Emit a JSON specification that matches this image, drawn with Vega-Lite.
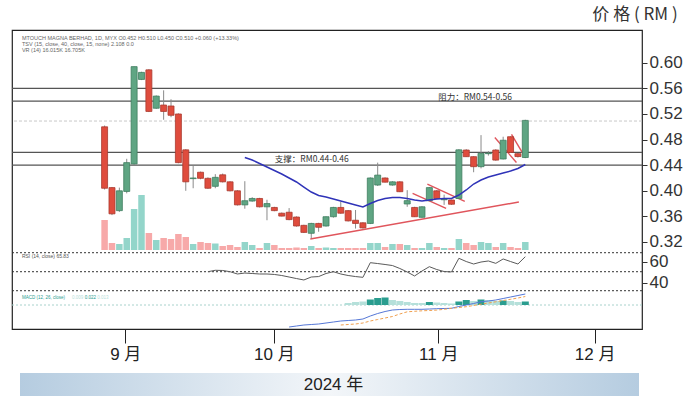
{
  "$schema": "https://vega.github.io/schema/vega-lite/v6.json",
  "padding": {"left": 10, "top": 6, "right": 0, "bottom": 0},
  "title": {"text": "价 格 ( RM )", "anchor": "end", "fontSize": 17, "font": "Noto Sans CJK SC", "fontWeight": "normal", "color": "#333333", "offset": 5, "dx": -5},
  "config": {"view": {"stroke": "#222222", "strokeWidth": 1.2}, "font": "Liberation Sans"},
  "spacing": 10,
  "datasets": {
    "k": [
      {"i":0,"o":0.500,"h":0.502,"l":0.402,"c":0.404,"v":300},
      {"i":1,"o":0.405,"h":0.406,"l":0.362,"c":0.364,"v":70},
      {"i":2,"o":0.369,"h":0.405,"l":0.367,"c":0.400,"v":60},
      {"i":3,"o":0.399,"h":0.450,"l":0.396,"c":0.444,"v":120},
      {"i":4,"o":0.442,"h":0.594,"l":0.440,"c":0.594,"v":410},
      {"i":5,"o":0.574,"h":0.586,"l":0.573,"c":0.585,"v":550},
      {"i":6,"o":0.589,"h":0.590,"l":0.523,"c":0.524,"v":170},
      {"i":7,"o":0.529,"h":0.549,"l":0.528,"c":0.548,"v":100},
      {"i":8,"o":0.534,"h":0.557,"l":0.511,"c":0.524,"v":120},
      {"i":9,"o":0.5325,"h":0.543,"l":0.515,"c":0.518,"v":110},
      {"i":10,"o":0.520,"h":0.521,"l":0.443,"c":0.444,"v":160},
      {"i":11,"o":0.464,"h":0.465,"l":0.400,"c":0.414,"v":130},
      {"i":12,"o":0.419,"h":0.439,"l":0.404,"c":0.420,"v":60},
      {"i":13,"o":0.429,"h":0.430,"l":0.418,"c":0.4195,"v":80},
      {"i":14,"o":0.4195,"h":0.421,"l":0.403,"c":0.404,"v":70,"rsi":50},
      {"i":15,"o":0.407,"h":0.426,"l":0.404,"c":0.421,"v":65,"rsi":51.5},
      {"i":16,"o":0.425,"h":0.427,"l":0.413,"c":0.414,"v":40,"rsi":51.3},
      {"i":17,"o":0.414,"h":0.415,"l":0.399,"c":0.400,"v":50,"rsi":50},
      {"i":18,"o":0.400,"h":0.401,"l":0.377,"c":0.378,"v":30,"rsi":47.6},
      {"i":19,"o":0.378,"h":0.415,"l":0.372,"c":0.3845,"v":80,"rsi":48.6,"ma":0.4520},
      {"i":20,"o":0.384,"h":0.390,"l":0.383,"c":0.388,"v":50,"rsi":48.1,"ma":0.4481},
      {"i":21,"o":0.388,"h":0.389,"l":0.374,"c":0.375,"v":20,"rsi":47.6,"ma":0.4427},
      {"i":22,"o":0.375,"h":0.386,"l":0.354,"c":0.380,"v":70,"rsi":47.6,"ma":0.4372},
      {"i":23,"o":0.374,"h":0.375,"l":0.368,"c":0.369,"v":50,"rsi":47.1,"ma":0.4317},
      {"i":24,"o":0.365,"h":0.366,"l":0.360,"c":0.3605,"v":20,"rsi":46,"ma":0.4263},
      {"i":25,"o":0.3665,"h":0.373,"l":0.354,"c":0.355,"v":20,"rsi":44.4,"ma":0.4200,"m":-0.022},
      {"i":26,"o":0.359,"h":0.360,"l":0.344,"c":0.345,"v":25,"rsi":42.8,"ma":0.4138,"m":-0.021},
      {"i":27,"o":0.346,"h":0.347,"l":0.334,"c":0.335,"v":20,"rsi":41.3,"ma":0.4059,"m":-0.020},
      {"i":28,"o":0.3336,"h":0.350,"l":0.3257,"c":0.349,"v":40,"rsi":44.4,"ma":0.3981,"m":-0.0195},
      {"i":29,"o":0.349,"h":0.350,"l":0.336,"c":0.343,"v":20,"rsi":44.9,"ma":0.3927,"m":-0.019},
      {"i":30,"o":0.345,"h":0.360,"l":0.344,"c":0.3595,"v":25,"rsi":48.1,"ma":0.3903,"m":-0.018},
      {"i":31,"o":0.3595,"h":0.375,"l":0.358,"c":0.374,"v":20,"rsi":50,"ma":0.3872,"m":-0.017},
      {"i":32,"o":0.374,"h":0.383,"l":0.364,"c":0.365,"v":20,"rsi":47.6,"ma":0.3841,"m":-0.016,"s":-0.020},
      {"i":33,"o":0.369,"h":0.370,"l":0.352,"c":0.353,"v":20,"rsi":46,"ma":0.3809,"m":-0.0155,"s":-0.0195,"hist":0.002,"hd":"down"},
      {"i":34,"o":0.354,"h":0.370,"l":0.341,"c":0.349,"v":20,"rsi":44.9,"ma":0.3778,"m":-0.015,"s":-0.019,"hist":0.003,"hd":"down"},
      {"i":35,"o":0.350,"h":0.351,"l":0.341,"c":0.342,"v":20,"rsi":44.1,"ma":0.3747,"m":-0.014,"s":-0.018,"hist":0.0035,"hd":"down"},
      {"i":36,"o":0.349,"h":0.421,"l":0.348,"c":0.420,"v":70,"rsi":59.5,"ma":0.3802,"m":-0.011,"s":-0.016,"hist":0.0055,"hd":"up"},
      {"i":37,"o":0.409,"h":0.444,"l":0.4075,"c":0.4245,"v":70,"rsi":58.6,"ma":0.3848,"m":-0.0085,"s":-0.0145,"hist":0.007,"hd":"up"},
      {"i":38,"o":0.420,"h":0.421,"l":0.413,"c":0.4135,"v":30,"rsi":57.6,"ma":0.3880,"m":-0.0065,"s":-0.013,"hist":0.0075,"hd":"up"},
      {"i":39,"o":0.409,"h":0.415,"l":0.408,"c":0.414,"v":60,"rsi":56.5,"ma":0.3895,"m":-0.005,"s":-0.0115,"hist":0.005,"hd":"down"},
      {"i":40,"o":0.414,"h":0.415,"l":0.398,"c":0.3986,"v":60,"rsi":53.4,"ma":0.3895,"m":-0.0045,"s":-0.009,"hist":0.004,"hd":"down"},
      {"i":41,"o":0.3794,"h":0.401,"l":0.375,"c":0.3846,"v":50,"rsi":49.7,"ma":0.3880,"m":-0.0043,"s":-0.0068,"hist":0.003,"hd":"down"},
      {"i":42,"o":0.374,"h":0.375,"l":0.359,"c":0.3595,"v":20,"rsi":45.5,"ma":0.3856,"m":-0.0043,"s":-0.0063,"hist":0.002,"hd":"down"},
      {"i":43,"o":0.3586,"h":0.376,"l":0.358,"c":0.375,"v":20,"rsi":50.7,"ma":0.3841,"m":-0.0043,"s":-0.0058,"hist":0.002,"hd":"down"},
      {"i":44,"o":0.3845,"h":0.406,"l":0.384,"c":0.405,"v":70,"rsi":55.3,"ma":0.3856,"m":-0.004,"s":-0.0055,"hist":0.003,"hd":"up"},
      {"i":45,"o":0.400,"h":0.401,"l":0.387,"c":0.388,"v":30,"rsi":52.3,"ma":0.3872,"m":-0.0037,"s":-0.0051,"hist":0.0025,"hd":"down"},
      {"i":46,"o":0.386,"h":0.394,"l":0.378,"c":0.387,"v":20,"rsi":50.2,"ma":0.3880,"m":-0.0035,"s":-0.0043,"hist":0.002,"hd":"down"},
      {"i":47,"o":0.3856,"h":0.386,"l":0.378,"c":0.379,"v":20,"rsi":49.7,"ma":0.3880,"m":-0.0033,"s":-0.0033,"hist":0.0015,"hd":"down"},
      {"i":48,"o":0.388,"h":0.465,"l":0.387,"c":0.464,"v":110,"rsi":64.1,"ma":0.3934,"m":-0.0015,"s":-0.0025,"hist":0.0035,"hd":"up"},
      {"i":49,"o":0.4637,"h":0.465,"l":0.453,"c":0.4533,"v":70,"rsi":60.7,"ma":0.4013,"m":0.0,"s":-0.0017,"hist":0.005,"hd":"up"},
      {"i":50,"o":0.4533,"h":0.454,"l":0.429,"c":0.4377,"v":50,"rsi":58.1,"ma":0.4106,"m":0.0015,"s":-0.0005,"hist":0.004,"hd":"down"},
      {"i":51,"o":0.4377,"h":0.487,"l":0.435,"c":0.4586,"v":80,"rsi":60.2,"ma":0.4169,"m":0.0033,"s":0.0008,"hist":0.0055,"hd":"up"},
      {"i":52,"o":0.458,"h":0.462,"l":0.455,"c":0.459,"v":70,"rsi":61.3,"ma":0.4216,"m":0.004,"s":0.002,"hist":0.005,"hd":"down"},
      {"i":53,"o":0.4637,"h":0.465,"l":0.447,"c":0.448,"v":30,"rsi":58.8,"ma":0.4247,"m":0.005,"s":0.0032,"hist":0.004,"hd":"down"},
      {"i":54,"o":0.4497,"h":0.4845,"l":0.449,"c":0.479,"v":70,"rsi":63.4,"ma":0.4278,"m":0.0065,"s":0.0045,"hist":0.0045,"hd":"up"},
      {"i":55,"o":0.4845,"h":0.485,"l":0.459,"c":0.460,"v":30,"rsi":60.7,"ma":0.4309,"m":0.008,"s":0.0057,"hist":0.004,"hd":"down"},
      {"i":56,"o":0.458,"h":0.459,"l":0.452,"c":0.4535,"v":20,"rsi":58.1,"ma":0.4348,"m":0.0095,"s":0.007,"hist":0.003,"hd":"down"},
      {"i":57,"o":0.452,"h":0.511,"l":0.451,"c":0.510,"v":80,"rsi":65.8,"ma":0.4411,"m":0.011,"s":0.0085,"hist":0.0035,"hd":"up"}
    ],
    "levels": [{"p":0.56},{"p":0.54},{"p":0.46},{"p":0.44}],
    "trend": [
      {"x1":27.87,"y1":0.3247,"x2":56.13,"y2":0.3825},
      {"x1":41.73,"y1":0.3961,"x2":46.27,"y2":0.3727},
      {"x1":43.73,"y1":0.4106,"x2":48.8,"y2":0.3836},
      {"x1":52.87,"y1":0.4833,"x2":55.8,"y2":0.4442},
      {"x1":55.13,"y1":0.488,"x2":57.0,"y2":0.452}
    ],
    "notes": [
      {"i":23.07,"p":0.4497,"t":"支撑：RM0.44-0.46"},
      {"i":45.2,"p":0.547,"t":"阻力：RM0.54-0.56"}
    ],
    "header": [
      {"i":-11.2,"p":0.6395,"t":"MTOUCH MAGNA BERHAD, 1D, MYX   O0.452  H0.510  L0.450  C0.510  +0.060 (+13.33%)"},
      {"i":-11.2,"p":0.6294,"t":"TSV (15, close, 40, close, 15, none)  2.108  0.0"},
      {"i":-11.2,"p":0.62,"t":"VR (14)  16.015K  16.705K"}
    ],
    "rsiLevels": [{"r":70},{"r":50},{"r":30}]
  },
  "vconcat": [
    {
      "width": 630,
      "height": 299,
      "resolve": {"scale": {"y": "independent"}},
      "layer": [
        {
          "data": {"name": "k"},
          "mark": {"type": "bar", "size": 6.5},
          "encoding": {
            "x": {"field": "i", "type": "quantitative", "scale": {"domain": [-11.867, 72.133], "nice": false, "zero": false},
              "axis": {"values": [2.8, 22.93, 45.2, 66.4], "labelExpr": "datum.value < 10 ? '9 月' : datum.value < 30 ? '10 月' : datum.value < 50 ? '11 月' : '12 月'", "domain": false, "grid": false, "tickSize": 14, "tickColor": "#222222", "tickWidth": 1, "labelFontSize": 17, "labelFont": "Liberation Sans, Noto Sans CJK SC", "labelColor": "#222222", "labelPadding": 3, "title": null, "labelFlush": false, "labelOverlap": false}},
            "y": {"field": "v", "type": "quantitative", "scale": {"domain": [-790, 2200], "nice": false, "zero": false}, "axis": null},
            "y2": {"datum": 0},
            "color": {"condition": {"test": "datum.c >= datum.o", "value": "#93d5ca"}, "value": "#f7a9a9"}
          }
        },
        {
          "data": {"name": "levels"},
          "mark": {"type": "rule", "color": "#555555", "strokeWidth": 1.3},
          "encoding": {
            "y": {"field": "p", "type": "quantitative", "scale": {"domain": [0.18406, 0.65125], "nice": false, "zero": false}, "axis": null}
          }
        },
        {
          "data": {"values": [{"p": 0.509}]},
          "mark": {"type": "rule", "color": "#c8c8c8", "strokeWidth": 1, "strokeDash": [3, 2]},
          "encoding": {
            "y": {"field": "p", "type": "quantitative", "scale": {"domain": [0.18406, 0.65125], "nice": false, "zero": false}, "axis": null}
          }
        },
        {
          "data": {"name": "rsiLevels"},
          "mark": {"type": "rule", "color": "#333333", "strokeWidth": 1, "strokeDash": [2, 2]},
          "encoding": {
            "y": {"field": "r", "type": "quantitative", "scale": {"domain": [-10.3, 304.4], "nice": false, "zero": false}, "axis": null}
          }
        },
        {
          "data": {"name": "k"},
          "transform": [{"filter": "isValid(datum.rsi)"}],
          "mark": {"type": "line", "color": "#5a5a5a", "strokeWidth": 1},
          "encoding": {
            "x": {"field": "i", "type": "quantitative", "scale": {"domain": [-11.867, 72.133], "nice": false, "zero": false},
              "axis": {"values": [2.8, 22.93, 45.2, 66.4], "labelExpr": "datum.value < 10 ? '9 月' : datum.value < 30 ? '10 月' : datum.value < 50 ? '11 月' : '12 月'", "domain": false, "grid": false, "tickSize": 14, "tickColor": "#222222", "tickWidth": 1, "labelFontSize": 17, "labelFont": "Liberation Sans, Noto Sans CJK SC", "labelColor": "#222222", "labelPadding": 3, "title": null, "labelFlush": false, "labelOverlap": false}},
            "y": {"field": "rsi", "type": "quantitative", "scale": {"domain": [-10.3, 304.4], "nice": false, "zero": false}, "axis": null}
          }
        },
        {
          "data": {"values": [{"i": -11.2, "r": 66.5, "t": "RSI (14, close)  65.83"}]},
          "mark": {"type": "text", "align": "left", "baseline": "middle", "fontSize": 5, "color": "#555555"},
          "encoding": {
            "x": {"field": "i", "type": "quantitative", "scale": {"domain": [-11.867, 72.133], "nice": false, "zero": false},
              "axis": {"values": [2.8, 22.93, 45.2, 66.4], "labelExpr": "datum.value < 10 ? '9 月' : datum.value < 30 ? '10 月' : datum.value < 50 ? '11 月' : '12 月'", "domain": false, "grid": false, "tickSize": 14, "tickColor": "#222222", "tickWidth": 1, "labelFontSize": 17, "labelFont": "Liberation Sans, Noto Sans CJK SC", "labelColor": "#222222", "labelPadding": 3, "title": null, "labelFlush": false, "labelOverlap": false}},
            "y": {"field": "r", "type": "quantitative", "scale": {"domain": [-10.3, 304.4], "nice": false, "zero": false}, "axis": null},
            "text": {"field": "t"}
          }
        },
        {
          "data": {"values": [{"z": 0}]},
          "mark": {"type": "rule", "color": "#a8d2cc", "strokeWidth": 1, "strokeDash": [2, 2]},
          "encoding": {
            "y": {"field": "z", "type": "quantitative", "scale": {"domain": [-0.024, 0.275], "nice": false, "zero": false}, "axis": null}
          }
        },
        {
          "data": {"name": "k"},
          "transform": [{"filter": "isValid(datum.hist)"}],
          "mark": {"type": "bar", "size": 7},
          "encoding": {
            "x": {"field": "i", "type": "quantitative", "scale": {"domain": [-11.867, 72.133], "nice": false, "zero": false},
              "axis": {"values": [2.8, 22.93, 45.2, 66.4], "labelExpr": "datum.value < 10 ? '9 月' : datum.value < 30 ? '10 月' : datum.value < 50 ? '11 月' : '12 月'", "domain": false, "grid": false, "tickSize": 14, "tickColor": "#222222", "tickWidth": 1, "labelFontSize": 17, "labelFont": "Liberation Sans, Noto Sans CJK SC", "labelColor": "#222222", "labelPadding": 3, "title": null, "labelFlush": false, "labelOverlap": false}},
            "y": {"field": "hist", "type": "quantitative", "scale": {"domain": [-0.024, 0.275], "nice": false, "zero": false}, "axis": null},
            "y2": {"datum": 0},
            "color": {"field": "hd", "type": "nominal", "scale": {"domain": ["up", "down"], "range": ["#2a9d8f", "#b5e0da"]}, "legend": null}
          }
        },
        {
          "data": {"name": "k"},
          "transform": [{"filter": "isValid(datum.m)"}],
          "mark": {"type": "line", "color": "#5577d6", "strokeWidth": 1},
          "encoding": {
            "x": {"field": "i", "type": "quantitative", "scale": {"domain": [-11.867, 72.133], "nice": false, "zero": false},
              "axis": {"values": [2.8, 22.93, 45.2, 66.4], "labelExpr": "datum.value < 10 ? '9 月' : datum.value < 30 ? '10 月' : datum.value < 50 ? '11 月' : '12 月'", "domain": false, "grid": false, "tickSize": 14, "tickColor": "#222222", "tickWidth": 1, "labelFontSize": 17, "labelFont": "Liberation Sans, Noto Sans CJK SC", "labelColor": "#222222", "labelPadding": 3, "title": null, "labelFlush": false, "labelOverlap": false}},
            "y": {"field": "m", "type": "quantitative", "scale": {"domain": [-0.024, 0.275], "nice": false, "zero": false}, "axis": null}
          }
        },
        {
          "data": {"name": "k"},
          "transform": [{"filter": "isValid(datum.s)"}],
          "mark": {"type": "line", "color": "#f0a050", "strokeWidth": 1, "strokeDash": [3, 2]},
          "encoding": {
            "x": {"field": "i", "type": "quantitative", "scale": {"domain": [-11.867, 72.133], "nice": false, "zero": false},
              "axis": {"values": [2.8, 22.93, 45.2, 66.4], "labelExpr": "datum.value < 10 ? '9 月' : datum.value < 30 ? '10 月' : datum.value < 50 ? '11 月' : '12 月'", "domain": false, "grid": false, "tickSize": 14, "tickColor": "#222222", "tickWidth": 1, "labelFontSize": 17, "labelFont": "Liberation Sans, Noto Sans CJK SC", "labelColor": "#222222", "labelPadding": 3, "title": null, "labelFlush": false, "labelOverlap": false}},
            "y": {"field": "s", "type": "quantitative", "scale": {"domain": [-0.024, 0.275], "nice": false, "zero": false}, "axis": null}
          }
        },
        {
          "data": {"values": [
            {"i": -11.2, "m": 0.007, "t": "MACD (12, 26, close)", "g": "a"},
            {"i": -4.4, "m": 0.007, "t": "0.009", "g": "b"},
            {"i": -2.7, "m": 0.007, "t": "0.022", "g": "c"},
            {"i": -1.0, "m": 0.007, "t": "0.013", "g": "d"}
          ]},
          "mark": {"type": "text", "align": "left", "baseline": "middle", "fontSize": 4.5},
          "encoding": {
            "x": {"field": "i", "type": "quantitative", "scale": {"domain": [-11.867, 72.133], "nice": false, "zero": false},
              "axis": {"values": [2.8, 22.93, 45.2, 66.4], "labelExpr": "datum.value < 10 ? '9 月' : datum.value < 30 ? '10 月' : datum.value < 50 ? '11 月' : '12 月'", "domain": false, "grid": false, "tickSize": 14, "tickColor": "#222222", "tickWidth": 1, "labelFontSize": 17, "labelFont": "Liberation Sans, Noto Sans CJK SC", "labelColor": "#222222", "labelPadding": 3, "title": null, "labelFlush": false, "labelOverlap": false}},
            "y": {"field": "m", "type": "quantitative", "scale": {"domain": [-0.024, 0.275], "nice": false, "zero": false}, "axis": null},
            "text": {"field": "t"},
            "color": {"field": "g", "type": "nominal", "scale": {"domain": ["a", "b", "c", "d"], "range": ["#666666", "#2a9d8f", "#5577d6", "#f0a050"]}, "legend": null}
          }
        },
        {
          "data": {"name": "trend"},
          "mark": {"type": "rule", "color": "#e0555c", "strokeWidth": 1.4},
          "encoding": {
            "x": {"field": "x1", "type": "quantitative", "scale": {"domain": [-11.867, 72.133], "nice": false, "zero": false},
              "axis": {"values": [2.8, 22.93, 45.2, 66.4], "labelExpr": "datum.value < 10 ? '9 月' : datum.value < 30 ? '10 月' : datum.value < 50 ? '11 月' : '12 月'", "domain": false, "grid": false, "tickSize": 14, "tickColor": "#222222", "tickWidth": 1, "labelFontSize": 17, "labelFont": "Liberation Sans, Noto Sans CJK SC", "labelColor": "#222222", "labelPadding": 3, "title": null, "labelFlush": false, "labelOverlap": false}},
            "x2": {"field": "x2"},
            "y": {"field": "y1", "type": "quantitative", "scale": {"domain": [0.18406, 0.65125], "nice": false, "zero": false}, "axis": null},
            "y2": {"field": "y2"}
          }
        },
        {
          "data": {"name": "k"},
          "mark": {"type": "rule", "color": "#8a8a8a", "strokeWidth": 1},
          "encoding": {
            "x": {"field": "i", "type": "quantitative", "scale": {"domain": [-11.867, 72.133], "nice": false, "zero": false},
              "axis": {"values": [2.8, 22.93, 45.2, 66.4], "labelExpr": "datum.value < 10 ? '9 月' : datum.value < 30 ? '10 月' : datum.value < 50 ? '11 月' : '12 月'", "domain": false, "grid": false, "tickSize": 14, "tickColor": "#222222", "tickWidth": 1, "labelFontSize": 17, "labelFont": "Liberation Sans, Noto Sans CJK SC", "labelColor": "#222222", "labelPadding": 3, "title": null, "labelFlush": false, "labelOverlap": false}},
            "y": {"field": "l", "type": "quantitative", "scale": {"domain": [0.18406, 0.65125], "nice": false, "zero": false},
              "axis": {"orient": "right", "values": [0.2567, 0.28875, 0.32, 0.36, 0.40, 0.44, 0.48, 0.52, 0.56, 0.60], "labelExpr": "datum.value < 0.27 ? '40' : datum.value < 0.3 ? '60' : format(datum.value, '.2f')", "domain": false, "grid": false, "tickSize": 5, "tickColor": "#333333", "labelFontSize": 17, "labelFont": "Liberation Sans", "labelColor": "#333333", "labelPadding": 2, "title": null, "labelFlush": false, "labelOverlap": false, "labelBaseline": "middle"}},
            "y2": {"field": "h"}
          }
        },
        {
          "data": {"name": "k"},
          "mark": {"type": "bar", "size": 6, "strokeWidth": 0.8},
          "encoding": {
            "x": {"field": "i", "type": "quantitative", "scale": {"domain": [-11.867, 72.133], "nice": false, "zero": false},
              "axis": {"values": [2.8, 22.93, 45.2, 66.4], "labelExpr": "datum.value < 10 ? '9 月' : datum.value < 30 ? '10 月' : datum.value < 50 ? '11 月' : '12 月'", "domain": false, "grid": false, "tickSize": 14, "tickColor": "#222222", "tickWidth": 1, "labelFontSize": 17, "labelFont": "Liberation Sans, Noto Sans CJK SC", "labelColor": "#222222", "labelPadding": 3, "title": null, "labelFlush": false, "labelOverlap": false}},
            "y": {"field": "o", "type": "quantitative", "scale": {"domain": [0.18406, 0.65125], "nice": false, "zero": false}, "axis": null},
            "y2": {"field": "c"},
            "fill": {"condition": {"test": "datum.c >= datum.o", "value": "#5fa583"}, "value": "#df4c3d"},
            "stroke": {"condition": {"test": "datum.c >= datum.o", "value": "#3f7d5f"}, "value": "#a93a2e"}
          }
        },
        {
          "data": {"name": "k"},
          "transform": [{"filter": "isValid(datum.ma)"}],
          "mark": {"type": "line", "color": "#2f33b8", "strokeWidth": 1.5},
          "encoding": {
            "x": {"field": "i", "type": "quantitative", "scale": {"domain": [-11.867, 72.133], "nice": false, "zero": false},
              "axis": {"values": [2.8, 22.93, 45.2, 66.4], "labelExpr": "datum.value < 10 ? '9 月' : datum.value < 30 ? '10 月' : datum.value < 50 ? '11 月' : '12 月'", "domain": false, "grid": false, "tickSize": 14, "tickColor": "#222222", "tickWidth": 1, "labelFontSize": 17, "labelFont": "Liberation Sans, Noto Sans CJK SC", "labelColor": "#222222", "labelPadding": 3, "title": null, "labelFlush": false, "labelOverlap": false}},
            "y": {"field": "ma", "type": "quantitative", "scale": {"domain": [0.18406, 0.65125], "nice": false, "zero": false}, "axis": null}
          }
        },
        {
          "data": {"name": "notes"},
          "mark": {"type": "text", "align": "left", "baseline": "middle", "fontSize": 8.5, "font": "Noto Sans CJK SC", "color": "#333333"},
          "encoding": {
            "x": {"field": "i", "type": "quantitative", "scale": {"domain": [-11.867, 72.133], "nice": false, "zero": false},
              "axis": {"values": [2.8, 22.93, 45.2, 66.4], "labelExpr": "datum.value < 10 ? '9 月' : datum.value < 30 ? '10 月' : datum.value < 50 ? '11 月' : '12 月'", "domain": false, "grid": false, "tickSize": 14, "tickColor": "#222222", "tickWidth": 1, "labelFontSize": 17, "labelFont": "Liberation Sans, Noto Sans CJK SC", "labelColor": "#222222", "labelPadding": 3, "title": null, "labelFlush": false, "labelOverlap": false}},
            "y": {"field": "p", "type": "quantitative", "scale": {"domain": [0.18406, 0.65125], "nice": false, "zero": false}, "axis": null},
            "text": {"field": "t"}
          }
        },
        {
          "data": {"name": "header"},
          "mark": {"type": "text", "align": "left", "baseline": "middle", "fontSize": 5.5, "color": "#666666"},
          "encoding": {
            "x": {"field": "i", "type": "quantitative", "scale": {"domain": [-11.867, 72.133], "nice": false, "zero": false},
              "axis": {"values": [2.8, 22.93, 45.2, 66.4], "labelExpr": "datum.value < 10 ? '9 月' : datum.value < 30 ? '10 月' : datum.value < 50 ? '11 月' : '12 月'", "domain": false, "grid": false, "tickSize": 14, "tickColor": "#222222", "tickWidth": 1, "labelFontSize": 17, "labelFont": "Liberation Sans, Noto Sans CJK SC", "labelColor": "#222222", "labelPadding": 3, "title": null, "labelFlush": false, "labelOverlap": false}},
            "y": {"field": "p", "type": "quantitative", "scale": {"domain": [0.18406, 0.65125], "nice": false, "zero": false}, "axis": null},
            "text": {"field": "t"}
          }
        }
      ]
    },
    {
      "width": 627,
      "height": 23,
      "view": {"stroke": null},
      "data": {"values": [{"label": "2024 年"}]},
      "layer": [
        {
          "mark": {"type": "rect", "xOffset": 8, "fill": {"gradient": "linear", "stops": [{"offset": 0, "color": "#b5cce0"}, {"offset": 0.5, "color": "#f3f6f9"}, {"offset": 1, "color": "#b5cce0"}]}},
          "encoding": {"x": {"value": 0}, "x2": {"value": "width"}, "y": {"value": 0}, "y2": {"value": "height"}}
        },
        {
          "mark": {"type": "text", "xOffset": 8, "fontSize": 17, "font": "Liberation Sans, Noto Sans CJK SC", "color": "#222222", "baseline": "middle"},
          "encoding": {"text": {"field": "label"}}
        }
      ]
    }
  ]
}
